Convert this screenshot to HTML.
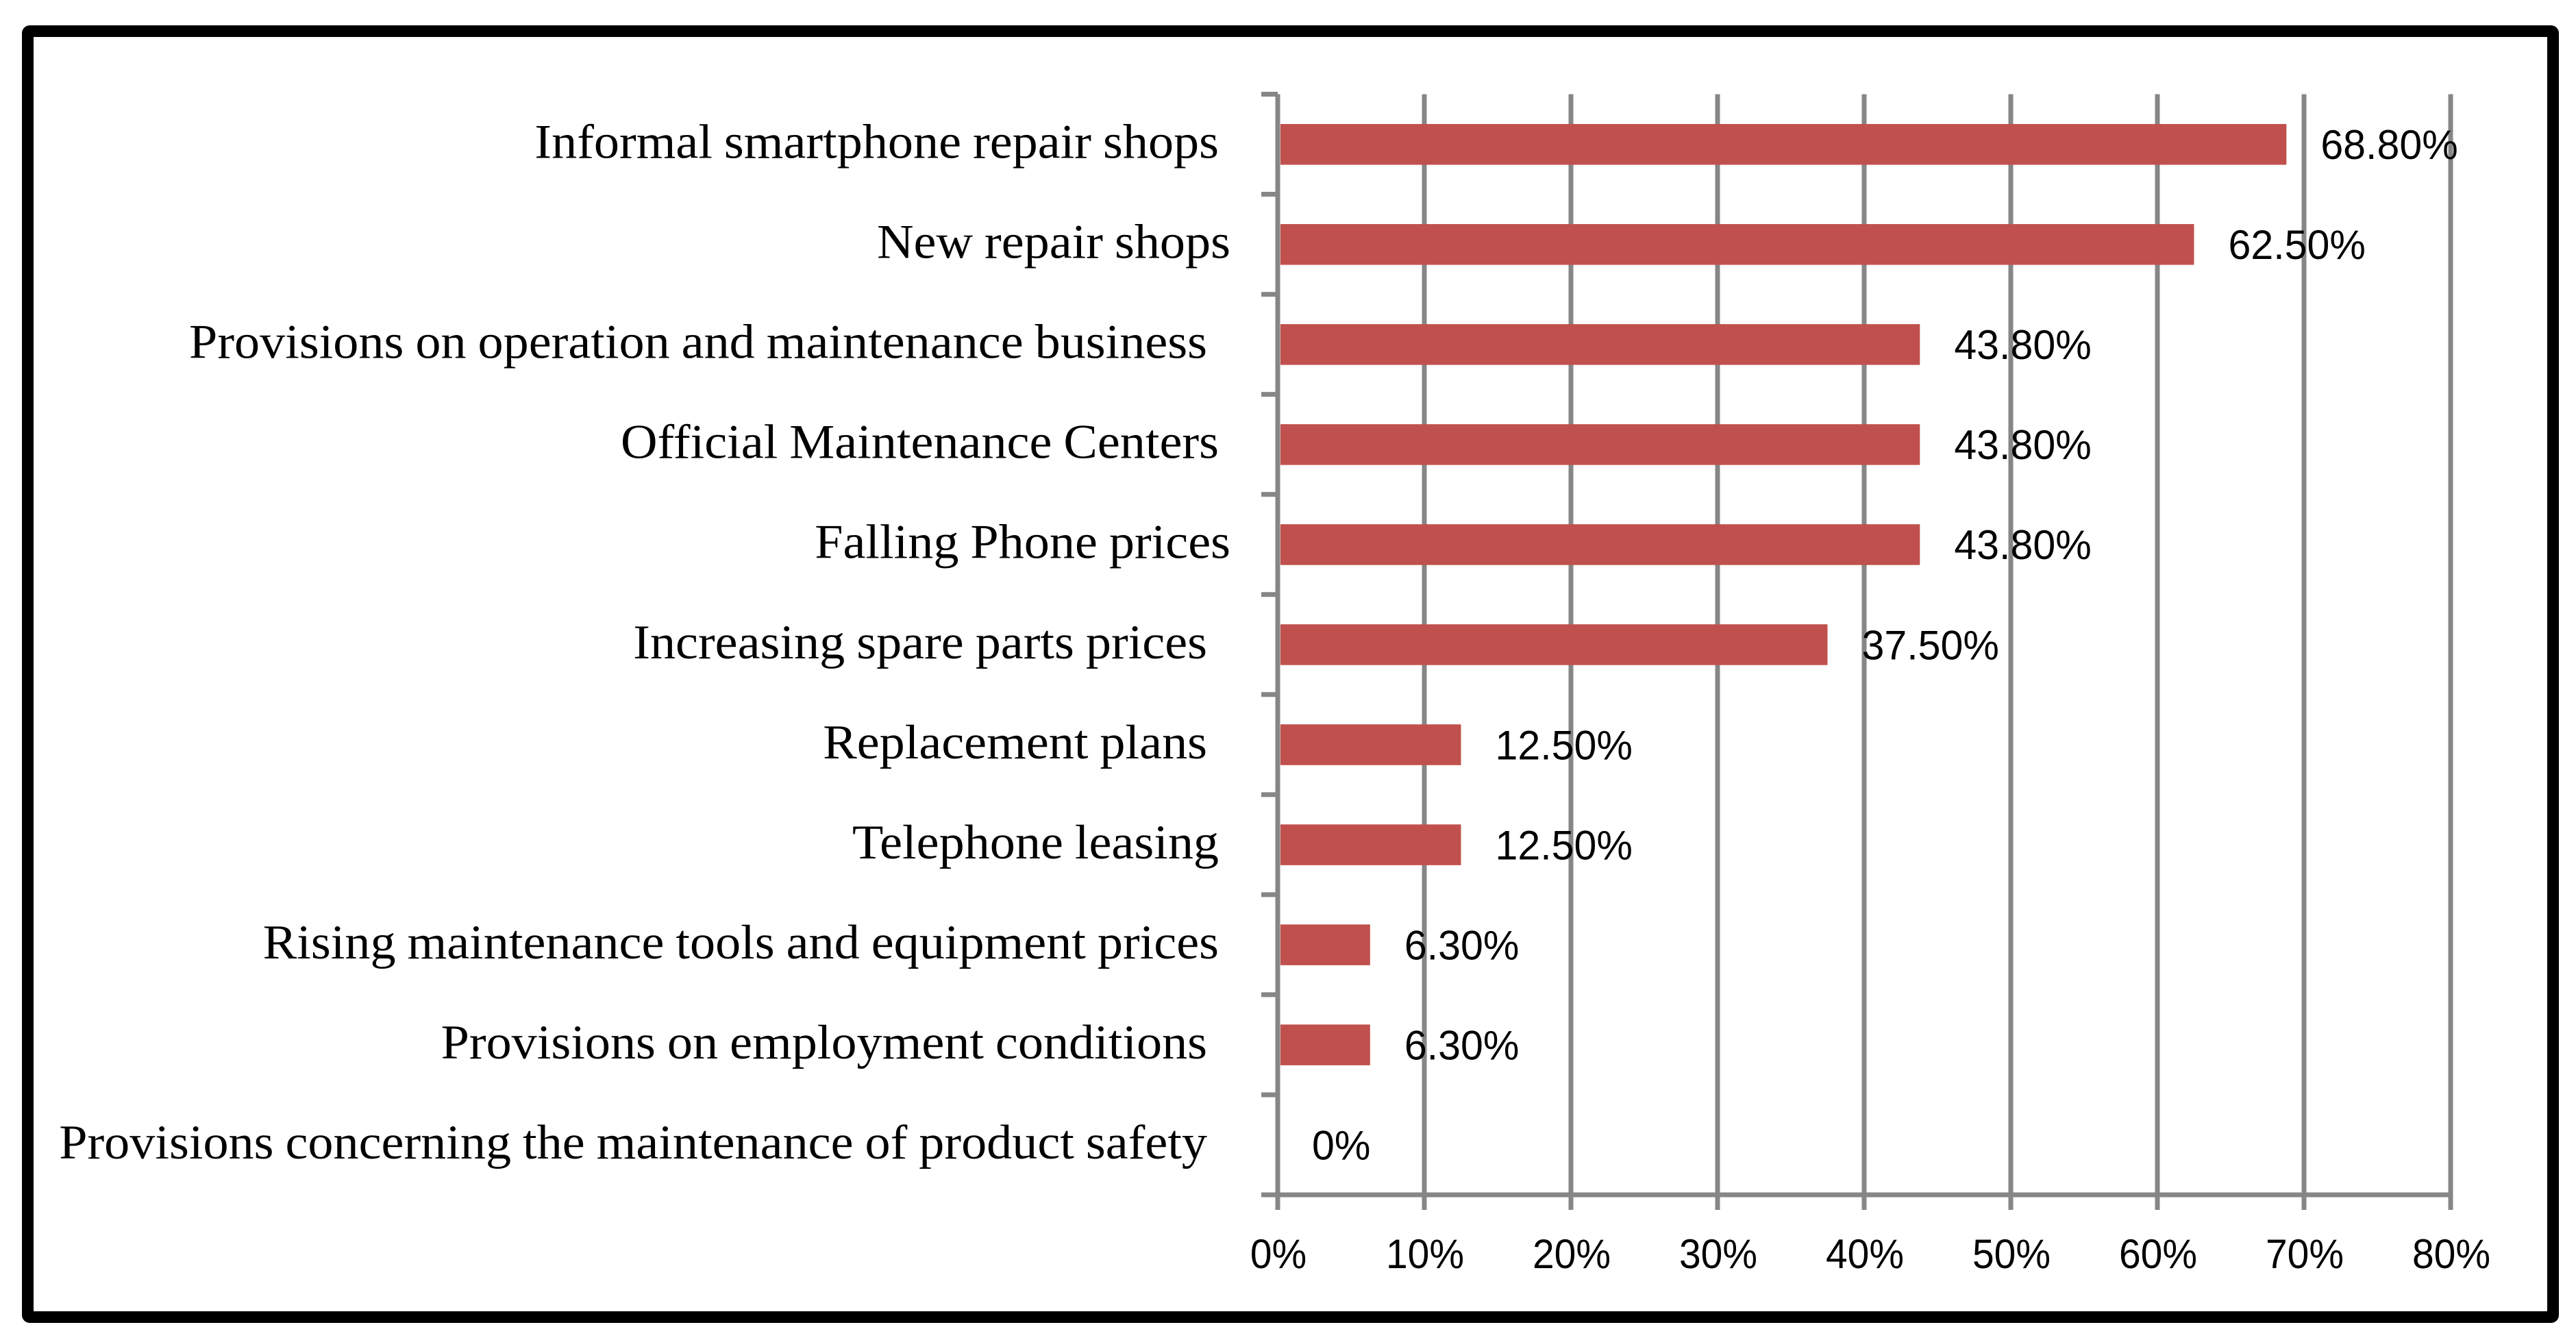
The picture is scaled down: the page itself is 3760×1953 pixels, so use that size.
<!DOCTYPE html>
<html lang="en">
<head>
<meta charset="utf-8">
<title>Bar chart of repair market factors</title>
<style>
html,body{margin:0;padding:0;background:#fff;width:3760px;height:1953px;overflow:hidden}
svg{display:block}
.cat{font-family:"Liberation Serif",serif;font-size:71px;word-spacing:-1.5px;fill:#000;white-space:pre}
.val{font-family:"Liberation Sans",sans-serif;font-size:60px;fill:#000}
</style>
</head>
<body>
<svg id="chart" xmlns="http://www.w3.org/2000/svg" width="3760" height="1953" viewBox="0 0 3760 1953">
<rect x="0" y="0" width="3760" height="1953" fill="#fff"/>
<rect x="40.5" y="45.5" width="3686" height="1877" rx="3" ry="3" fill="none" stroke="#000" stroke-width="17"/>
</svg>
<script>
const categories = [
  "Informal smartphone repair shops ",
  "New repair shops",
  "Provisions on operation and maintenance business  ",
  "Official Maintenance Centers ",
  "Falling Phone prices",
  "Increasing spare parts prices  ",
  "Replacement plans  ",
  "Telephone leasing ",
  "Rising maintenance tools and equipment prices ",
  "Provisions on employment conditions  ",
  "Provisions concerning the maintenance of product safety  "
];
const seriesValues = [68.8, 62.5, 43.8, 43.8, 43.8, 37.5, 12.5, 12.5, 6.3, 6.3, 0];
const xTicks = [0, 10, 20, 30, 40, 50, 60, 70, 80];
const xTickLabels = ["0%", "10%", "20%", "30%", "40%", "50%", "60%", "70%", "80%"];

const NS = "http://www.w3.org/2000/svg";
const svg = document.getElementById("chart");
const plotLeft = 1865, plotTop = 137.5, plotBottom = 1744, unitsPerPx = 21.4;
const xMaxValue = xTicks[xTicks.length - 1];
const plotRight = plotLeft + xMaxValue * unitsPerPx;
const bandH = (plotBottom - plotTop) / categories.length;
const xScale = v => plotLeft + v * unitsPerPx;
const bandCenter = i => plotTop + bandH * (i + 0.5);
const bandEdge = i => plotTop + bandH * i;
const GREY = "#868686";

function mk(tag, attrs, text) {
  const el = document.createElementNS(NS, tag);
  for (const k in attrs) el.setAttribute(k, attrs[k]);
  if (text !== undefined) el.textContent = text;
  svg.appendChild(el);
  return el;
}

// gridlines and x ticks
xTicks.forEach((t, i) => {
  const line = mk("line", {x1: xScale(t), x2: xScale(t), y1: plotTop, y2: plotBottom + 22, stroke: GREY, "stroke-width": 7});
  
  
});

// x axis line
const xAxis = mk("line", {x1: plotLeft - 24, x2: plotRight + 3.5, y1: plotBottom, y2: plotBottom, stroke: GREY, "stroke-width": 7});



// y tick marks
for (let i = 0; i <= categories.length; i++) {
  const tick = mk("line", {x1: plotLeft - 24, x2: plotLeft, y1: bandEdge(i), y2: bandEdge(i), stroke: GREY, "stroke-width": 7});
  
  
}

// bars
seriesValues.forEach((v, i) => {
  const x0 = plotLeft + 4;
  const w = Math.max(0, xScale(v) - x0);
  const bar = mk("rect", {x: x0, y: bandCenter(i) - 29.5, width: w, height: 59.5, fill: "#C0504D"});
  
  
});

// category labels
categories.forEach((c, i) => {
  const t = mk("text", {class: "cat", "text-anchor": "end", transform: "translate(1796," + (bandCenter(i) + 20) + ") scale(1.045,1)"}, c);
  t.setAttributeNS("http://www.w3.org/XML/1998/namespace", "xml:space", "preserve");
  
  
});

// value labels
seriesValues.forEach((v, i) => {
  const str = v === 0 ? "0%" : v.toFixed(2) + "%";
  const t = mk("text", {class: "val", transform: "translate(" + (xScale(v) + 50) + "," + (bandCenter(i) + 21.5) + ") scale(0.985,1)"}, str);
  
  
});

// x tick labels
xTickLabels.forEach((s, i) => {
  const t = mk("text", {class: "val", "text-anchor": "middle", transform: "translate(" + (xScale(xTicks[i]) + 1) + ",1851) scale(0.95,1)"}, s);
  
  
});
</script>
</body>
</html>
